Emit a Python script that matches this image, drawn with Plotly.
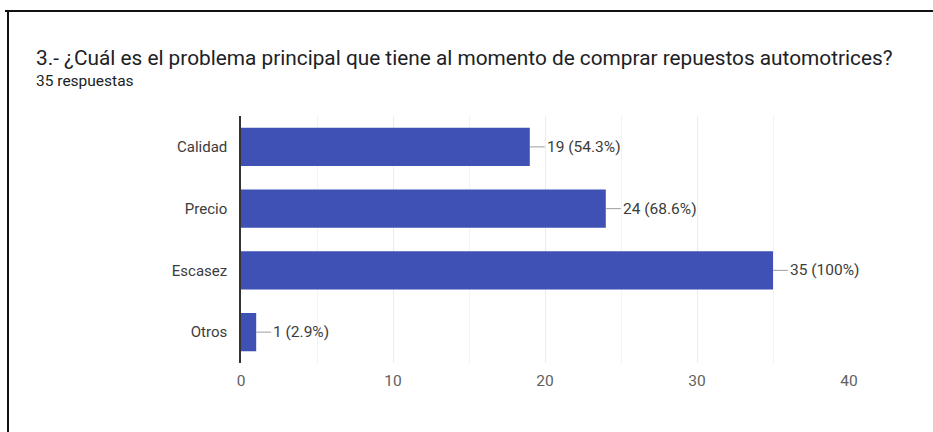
import plotly.graph_objects as go

# Survey results: question 3
categories = ["Calidad", "Precio", "Escasez", "Otros"]
counts = [19, 24, 35, 1]
percent_labels = ["54.3%", "68.6%", "100%", "2.9%"]
total_responses = 35

title_text = "3.- ¿Cuál es el problema principal que tiene al momento de comprar repuestos automotrices?"
subtitle_text = f"{total_responses} respuestas"

bar_color = "#3f51b5"
font_family = "Roboto, Arial, sans-serif"

W, H = 933, 432
ml, mr, mt, mb = 241, 84, 116, 69
plot_w = W - ml - mr
plot_h = H - mt - mb


def px_x(x):
    """Pixel x position -> paper coordinate."""
    return (x - ml) / plot_w


def px_y(y):
    """Pixel y position (from top) -> paper coordinate."""
    return 1 - (y - mt) / plot_h


fig = go.Figure()
fig.add_trace(go.Bar(
    x=counts,
    y=categories,
    orientation="h",
    marker=dict(color=bar_color, line=dict(width=0)),
    width=0.62,
    hoverinfo="skip",
))

# Value labels with a short leader line from the bar end
for cat, val, pct in zip(categories, counts, percent_labels):
    fig.add_annotation(
        x=val, y=cat, xref="x", yref="y",
        text=f"{val} ({pct})",
        showarrow=True, arrowhead=0, arrowwidth=1, arrowcolor="#9e9e9e",
        ax=15, ay=0, xanchor="left",
        font=dict(family=font_family, size=15.5, color="#3c3c3c"),
    )

# Title and response count
fig.add_annotation(
    x=px_x(34), y=px_y(58), xref="paper", yref="paper", text=title_text,
    showarrow=False, xanchor="left", yanchor="middle",
    font=dict(family=font_family, size=20.8, color="#202124"),
)
fig.add_annotation(
    x=px_x(34), y=px_y(81), xref="paper", yref="paper", text=subtitle_text,
    showarrow=False, xanchor="left", yanchor="middle",
    font=dict(family=font_family, size=15.5, color="#202124"),
)

# Outer frame: top and left rules
fig.add_shape(type="line", xref="paper", yref="paper",
              x0=px_x(5), x1=px_x(W), y0=px_y(11), y1=px_y(11),
              line=dict(color="#111111", width=2))
fig.add_shape(type="line", xref="paper", yref="paper",
              x0=px_x(8), x1=px_x(8), y0=px_y(11), y1=px_y(H),
              line=dict(color="#111111", width=2))

fig.update_layout(
    width=W, height=H,
    margin=dict(l=ml, r=mr, t=mt, b=mb, pad=0),
    paper_bgcolor="white", plot_bgcolor="white",
    showlegend=False,
    bargap=0.38,
    xaxis=dict(
        range=[0, 40], dtick=10, tick0=0,
        showgrid=True, gridcolor="#ececec", gridwidth=1,
        minor=dict(dtick=5, showgrid=True, gridcolor="#f3f3f3"),
        zeroline=False, showline=False, ticks="",
        tickfont=dict(family=font_family, size=15.5, color="#5f5f5f"),
        ticklabelstandoff=6,
        fixedrange=True,
    ),
    yaxis=dict(
        categoryorder="array", categoryarray=categories[::-1],
        showgrid=False, zeroline=False,
        showline=True, linecolor="#333333", linewidth=1.5,
        ticks="", ticklabelstandoff=9,
        tickfont=dict(family=font_family, size=15, color="#3c3c3c"),
        fixedrange=True,
    ),
)

fig.write_html("out.html")
